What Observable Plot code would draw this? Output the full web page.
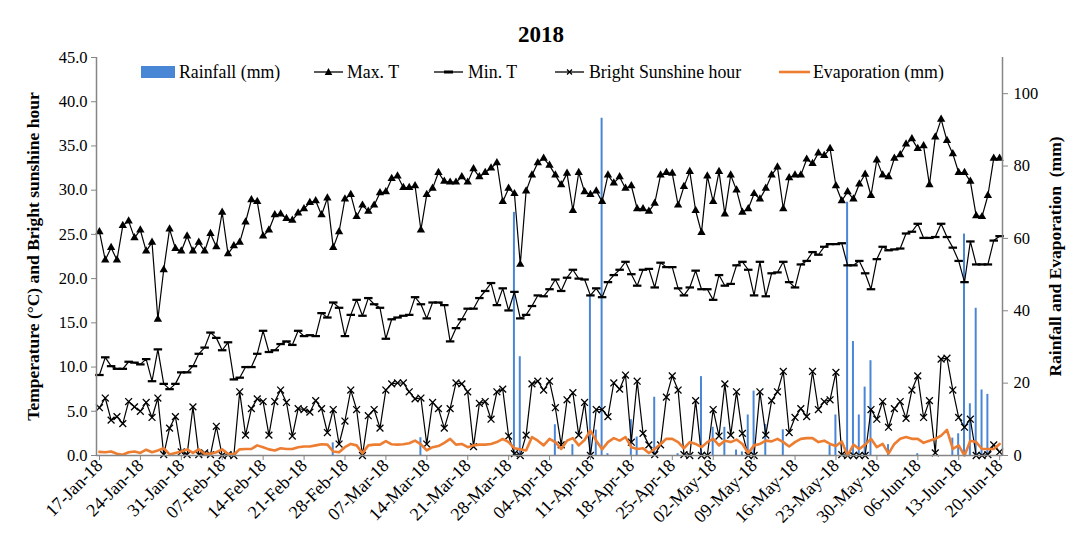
<!DOCTYPE html>
<html>
<head>
<meta charset="utf-8">
<script src="https://cdn.jsdelivr.net/npm/d3@7"></script>
<script src="https://cdn.jsdelivr.net/npm/@observablehq/plot@0.6"></script>
<style>
  body { margin: 0; background: #fff; }
  #wrap { position: relative; width: 1069px; height: 539px; font-family: "Liberation Serif", "Times New Roman", serif; color: #000; overflow: hidden; }
  #chart { position: absolute; left: 0; top: 0; }
  #title { position: absolute; left: 0; top: 21px; width: 1082px; text-align: center; font-weight: bold; font-size: 23px; line-height: 28px; }
  .leg { position: absolute; top: 61px; height: 22px; line-height: 22px; font-size: 17.8px; white-space: nowrap; }
  .legsym { position: absolute; top: 61px; }
  #chart g[aria-label="y-axis label"] text { font-weight: bold; font-size: 17.5px; white-space: pre; }
</style>
</head>
<body>
<div id="wrap">
  <div id="chart"></div>
  <div id="title">2018</div>
  <div id="legend"></div>
</div>
<script>
// ---- Data (daily, 17-Jan-2018 ... 20-Jun-2018) ----
const startDate = "2018-01-17";

const maxT = [25.3,22.1,23.5,22.1,26.0,26.5,24.6,25.5,23.1,24.1,15.4,21.0,25.6,23.4,23.1,24.8,23.1,24.1,23.1,25.1,
  23.6,27.5,22.8,23.7,24.1,26.4,28.9,28.7,24.8,25.5,27.2,27.3,26.8,26.6,27.4,27.9,28.6,28.8,27.2,29.1,
  23.5,25.3,29.0,29.5,27.0,28.3,27.6,28.3,29.7,29.8,31.3,31.6,30.3,30.3,30.5,25.5,29.5,30.2,32.0,31.0,
  30.9,30.9,31.5,30.9,32.4,31.5,32.0,32.5,33.1,28.7,30.2,29.6,21.6,29.9,31.7,33.1,33.6,32.8,31.7,30.6,
  31.9,27.7,32.0,29.8,29.5,29.9,28.7,31.7,30.8,31.5,30.2,30.5,27.9,27.9,27.6,28.5,31.7,32.0,31.9,28.3,
  30.4,32.1,27.7,25.2,31.6,28.7,32.1,27.3,31.7,30.0,27.5,27.9,29.6,29.0,30.2,31.7,32.6,27.9,31.4,31.7,
  31.7,33.5,33.0,34.2,33.9,34.7,30.5,28.8,29.8,29.0,30.7,31.8,29.4,33.4,31.7,31.5,33.6,34.0,35.2,35.8,
  34.7,35.0,30.6,36.0,38.0,35.6,34.1,32.0,32.0,31.0,27.1,27.0,29.4,33.6,33.6];

const minT = [9.1,11.1,10.1,9.8,9.8,10.6,10.5,10.3,10.9,8.4,12.0,8.1,7.5,8.1,9.4,9.4,10.1,11.5,12.2,13.9,
  13.3,11.9,12.8,8.6,8.8,10.0,10.0,11.5,14.1,11.7,11.9,12.6,12.9,12.5,14.1,13.5,13.6,13.5,16.1,15.6,
  17.3,16.7,13.5,15.9,17.6,15.8,17.8,17.1,16.7,13.2,15.4,15.6,15.8,15.9,17.9,17.1,15.5,17.3,17.3,17.0,
  12.9,14.4,15.4,16.6,16.6,17.8,18.6,19.5,17.0,18.9,16.4,18.5,15.5,15.9,16.9,18.1,18.0,18.8,19.9,18.6,
  20.1,21.0,20.0,19.9,18.1,18.9,17.9,19.6,20.4,21.0,21.9,20.5,19.2,21.0,21.1,19.0,21.8,21.3,21.3,18.9,
  18.1,19.0,20.9,18.8,18.8,17.6,20.4,19.2,19.4,21.5,21.9,21.0,18.1,21.9,18.0,20.6,20.7,21.9,19.6,19.0,
  21.6,22.0,23.0,22.7,23.6,23.9,23.9,24.0,21.5,21.5,22.0,20.6,18.8,22.2,23.6,23.2,23.3,23.4,25.1,25.3,
  26.2,24.6,24.6,24.7,26.2,24.7,23.5,22.0,19.6,24.2,21.6,21.6,21.6,24.3,24.8];

const sunshine = [5.4,6.5,4.0,4.4,3.6,6.1,5.5,5.0,6.0,4.3,6.5,0.1,3.1,4.4,0.4,0.1,5.5,0.1,0.3,0.1,
  3.3,0.0,0.1,0.0,7.2,2.3,5.3,6.4,6.1,2.3,6.1,7.4,6.0,2.2,5.3,5.2,4.9,6.2,5.3,2.6,
  5.2,1.3,3.9,7.4,5.2,0.0,4.5,5.2,3.1,7.4,8.1,8.2,8.2,7.2,6.4,6.5,1.3,6.0,5.3,3.1,
  5.3,8.2,8.1,7.2,1.0,5.9,6.1,4.1,7.2,7.5,2.2,0.2,0.0,2.3,8.1,8.4,7.4,8.4,5.4,1.2,
  6.3,7.1,2.3,6.0,0.0,5.2,5.2,4.4,8.2,7.5,9.1,1.5,8.4,2.5,1.2,0.1,1.2,6.6,9.0,7.4,
  0.1,0.0,6.2,0.0,0.0,5.2,2.2,8.1,2.3,7.2,2.5,0.0,0.0,7.2,2.3,6.2,7.2,9.5,2.6,4.3,
  5.3,4.4,9.5,5.2,6.1,6.3,9.4,0.1,0.0,0.0,0.0,0.0,5.2,4.1,6.1,3.2,5.3,6.1,4.2,7.4,
  9.0,4.3,6.2,0.3,10.9,11.0,7.4,4.3,3.2,4.1,0.0,0.0,0.1,1.2,0.4];

const evaporation = [1.0,0.9,1.1,0.5,0.2,0.9,1.1,0.7,1.6,0.9,1.4,2.0,0.3,0.7,1.1,1.7,0.7,1.7,0.5,0.5,
  0.9,1.7,0.5,0.3,1.7,1.8,1.8,2.8,2.3,1.7,1.4,2.0,1.8,1.8,2.3,2.5,2.5,2.8,3.1,3.0,
  1.1,0.9,2.3,3.2,2.8,0.6,2.8,3.0,3.0,4.0,3.1,3.0,3.1,3.4,4.1,3.1,1.4,2.3,2.6,3.5,
  4.6,3.0,3.2,2.3,2.8,3.0,3.0,3.2,3.7,4.6,3.7,2.0,1.7,1.4,5.1,4.1,2.8,4.6,3.7,1.8,
  4.1,4.8,2.8,4.3,6.9,4.1,1.7,3.7,4.8,4.1,5.1,2.3,1.8,2.0,0.7,1.8,3.2,4.6,4.6,3.7,
  2.0,3.7,3.2,2.3,3.7,4.6,2.8,4.1,3.7,4.4,3.2,0.7,2.8,3.2,4.1,3.9,4.6,3.7,2.5,3.7,
  4.6,4.8,4.8,3.7,4.1,3.2,2.6,3.9,0.0,3.0,1.8,3.0,4.6,2.3,3.2,0.5,3.2,4.6,5.1,4.6,
  4.6,3.5,4.1,4.6,5.5,7.1,1.8,2.8,0.0,4.1,3.7,1.8,1.8,1.8,3.2];

const rainfall = [0,0,0,0,0,0,0,0,0,0,0,0,0,0,0,0,0,0,0,0,
  0,0,0,0,0,0,0,0,0,0,0,0,0,0,0,0,0,0,0,0,
  3.5,0,0,0,0,0,0,0,0,0,0,0,0,0,0,4.9,0,0,0,0,
  0,0,0,0,0,0,0,0,0,0,0,67.2,27.3,0,0,0,0,0,8.5,0,
  0,3.0,0,0,44.2,7.0,93.2,0.5,0,0,0,9.9,5.1,0,0,16.1,0,0,0,0.5,
  0,0,0,21.8,0,7.8,0,7.8,0,1.5,1.0,11.2,17.8,0,8.6,0,0,7.1,0,0,
  0,0,0,0,0,2.8,11.2,0,70.0,31.5,11.2,18.9,26.2,0,0,3.0,0,0,0,0,
  0.5,0,0,0,0,0,4.8,6.0,61.2,14.3,40.7,18.1,16.9,0,0];

const tickLabels = ["17-Jan-18","24-Jan-18","31-Jan-18","07-Feb-18","14-Feb-18","21-Feb-18","28-Feb-18",
  "07-Mar-18","14-Mar-18","21-Mar-18","28-Mar-18","04-Apr-18","11-Apr-18","18-Apr-18","25-Apr-18",
  "02-May-18","09-May-18","16-May-18","23-May-18","30-May-18","06-Jun-18","13-Jun-18","20-Jun-18"];

const leftTicks = [0,5,10,15,20,25,30,35,40,45];
const rightTicks = [0,20,40,60,80,100];
const leftMax = 45, rightMax = 110;

// ---- Build table ----
const nDays = maxT.length;
const k = leftMax / rightMax; // secondary axis -> primary axis units
const rows = d3.range(nDays).map(i => ({
  day: i, x: i + 0.5,
  maxT: maxT[i], minT: minT[i], sun: sunshine[i],
  evap: evaporation[i] * k, rain: rainfall[i] * k
}));
const rainRows = rows.filter(d => d.rain > 0);

const dashSymbol = {
  draw(ctx, size) {
    const r = Math.sqrt(size / Math.PI);
    ctx.moveTo(-1.25 * r, -0.33 * r);
    ctx.lineTo(1.25 * r, -0.33 * r);
    ctx.lineTo(1.25 * r, 0.33 * r);
    ctx.lineTo(-1.25 * r, 0.33 * r);
    ctx.closePath();
  }
};

const axisGray = "#868686";
const blue = "#4a86d6";
const orange = "#ED7D31";

const chart = Plot.plot({
  width: 1069,
  height: 539,
  marginTop: 57,
  marginBottom: 84,
  marginLeft: 96,
  marginRight: 67,
  style: { fontFamily: "Liberation Serif, Times New Roman, serif", fontSize: "16.5px", color: "#000", background: "transparent", overflow: "visible" },
  x: { domain: [0, nDays] },
  y: { domain: [0, leftMax] },
  marks: [
    Plot.rectY(rainRows, { x1: d => d.day + 0.33, x2: d => d.day + 0.67, y: "rain", fill: blue }),
    Plot.lineY(rows, { x: "x", y: "maxT", stroke: "#000", strokeWidth: 1.2 }),
    Plot.dot(rows, { x: "x", y: "maxT", symbol: "triangle", r: 3.1, fill: "#000", stroke: "none" }),
    Plot.lineY(rows, { x: "x", y: "minT", stroke: "#000", strokeWidth: 1.2 }),
    Plot.dot(rows, { x: "x", y: "minT", symbol: dashSymbol, r: 3.4, fill: "#000", stroke: "none" }),
    Plot.lineY(rows, { x: "x", y: "sun", stroke: "#000", strokeWidth: 1.2 }),
    Plot.dot(rows, { x: "x", y: "sun", symbol: "times", r: 3.2, stroke: "#000", strokeWidth: 1.3, fill: "none" }),
    Plot.lineY(rows, { x: "x", y: "evap", stroke: orange, strokeWidth: 2.6 }),
    Plot.ruleY([0], { stroke: axisGray, strokeWidth: 1.5 }),
    Plot.ruleX([0, nDays], { stroke: axisGray, strokeWidth: 1.5 }),
    Plot.axisY({
      anchor: "left", ticks: leftTicks, tickFormat: d => d.toFixed(1), tickSize: 5, tickPadding: 4,
      stroke: axisGray, fill: "#000",
      label: "Temperature (°C) and Bright sunshine hour", labelAnchor: "center", labelOffset: 70, labelArrow: "none"
    }),
    Plot.axisY({
      anchor: "right", ticks: rightTicks.map(v => v * k), tickFormat: d => String(Math.round(d / k)), tickSize: 5, tickPadding: 6,
      stroke: axisGray, fill: "#000",
      label: "Rainfall and Evaporation  (mm)", labelAnchor: "center", labelOffset: 58, labelArrow: "none"
    }),
    Plot.axisX({
      ticks: tickLabels.map((_, j) => j * 7), tickFormat: (d, j) => tickLabels[j], tickRotate: -45,
      tickSize: 5, tickPadding: 2, stroke: axisGray, fill: "#000", fontSize: 18, label: null, dx: 3
    })
  ]
});
document.getElementById("chart").appendChild(chart);

// ---- Legend (HTML) ----
const legend = document.getElementById("legend");
function addSym(left, width, svgInner) {
  const s = document.createElementNS("http://www.w3.org/2000/svg", "svg");
  s.setAttribute("width", width); s.setAttribute("height", 22);
  s.setAttribute("class", "legsym");
  s.style.left = left + "px";
  s.innerHTML = svgInner;
  legend.appendChild(s);
}
function addText(left, txt) {
  const d = document.createElement("div");
  d.className = "leg"; d.style.left = left + "px"; d.textContent = txt;
  legend.appendChild(d);
}
addSym(141, 36, `<rect x="0" y="5" width="34" height="12" fill="${blue}"/>`);
addText(179, "Rainfall (mm)");
addSym(314, 30, `<line x1="0" x2="29" y1="11" y2="11" stroke="#000" stroke-width="1.3"/><path d="M14.5,7 L18.3,14 L10.7,14 Z" fill="#000"/>`);
addText(347, "Max. T");
addSym(434, 30, `<line x1="0" x2="29" y1="11" y2="11" stroke="#000" stroke-width="1.3"/><rect x="10" y="9.5" width="9" height="3" fill="#000"/>`);
addText(468, "Min. T");
addSym(555, 30, `<line x1="0" x2="29" y1="11" y2="11" stroke="#000" stroke-width="1.3"/><path d="M12,8.5 L17,13.5 M17,8.5 L12,13.5" stroke="#000" stroke-width="1.3"/>`);
addText(589, "Bright Sunshine hour");
addSym(779, 32, `<line x1="0" x2="31" y1="11" y2="11" stroke="${orange}" stroke-width="2.6"/>`);
addText(813, "Evaporation (mm)");
</script>
</body>
</html>
